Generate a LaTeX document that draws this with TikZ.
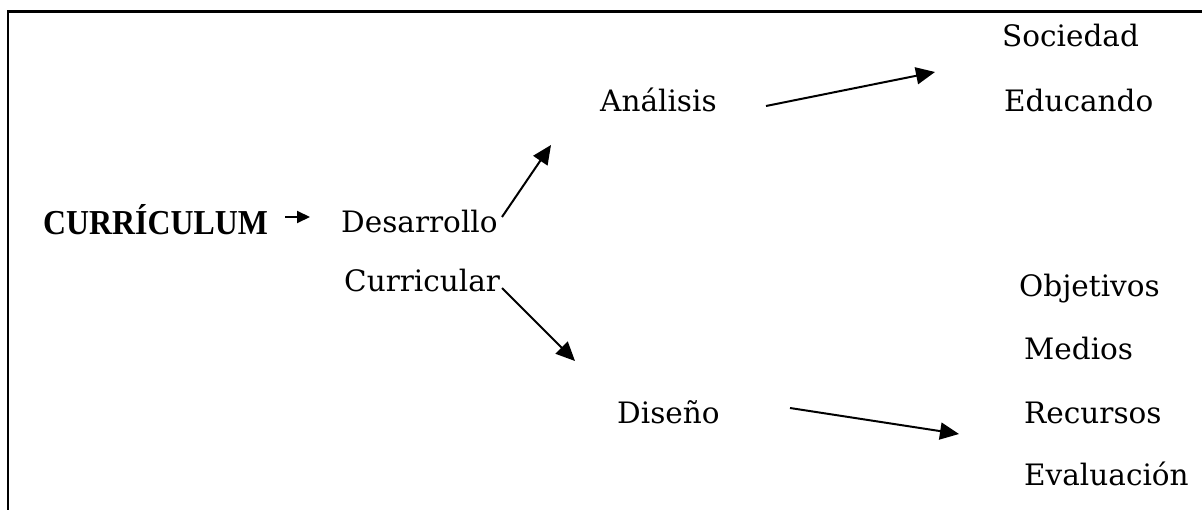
\documentclass[tikz,border=0pt]{standalone}
\usepackage{fontspec}
\setmainfont{DejaVu Serif}
\newfontfamily\titlefont{Liberation Serif}
\usetikzlibrary{arrows.meta}
\begin{document}
\begin{tikzpicture}[x=1pt,y=-1pt,
  lbl/.style={anchor=base west,inner sep=0pt,font=\fontsize{29.5}{32}\selectfont},
  conn/.style={line width=2pt,-{Triangle[length=19pt,width=17pt]}},
  frame/.style={line width=2.6pt}]
\useasboundingbox (0,0) rectangle (1202,510);
\draw[frame] (7.8,510) -- (7.8,11.8) -- (1202,11.8);
\node[lbl,font=\titlefont\bfseries\fontsize{35}{38}\selectfont] (cur) at (43,235) {\scalebox{0.91}[1]{CURRÍCULUM}};
\node[lbl] (des) at (341,233) {Desarrollo};
\node[lbl] (cuc) at (344,292) {Curricular};
\node[lbl] (ana) at (600,112) {Análisis};
\node[lbl] (dis) at (617,423) {Diseño};
\node[lbl] (soc) at (1002,47) {Sociedad};
\node[lbl] (edu) at (1004,112) {Educando};
\node[lbl] (obj) at (1019,297) {Objetivos};
\node[lbl] (med) at (1024,360) {Medios};
\node[lbl] (rec) at (1024,423) {Recursos};
\node[lbl] (eva) at (1024,485) {Evaluación};
\coordinate (a1s) at (285,217);
\coordinate (a1e) at (310,217);
\coordinate (a2s) at (502,217);
\coordinate (a2e) at (551,145);
\coordinate (a3s) at (502,288);
\coordinate (a3e) at (575,361);
\coordinate (a4s) at (766,106);
\coordinate (a4e) at (935,72);
\coordinate (a5s) at (790,408);
\coordinate (a5e) at (959,434);
\draw[line width=2pt,-{Triangle[length=13pt,width=12pt]}] (a1s) -- (a1e);
\draw[conn] (a2s) -- (a2e);
\draw[conn] (a3s) -- (a3e);
\draw[conn] (a4s) -- (a4e);
\draw[conn] (a5s) -- (a5e);
\end{tikzpicture}
\end{document}
